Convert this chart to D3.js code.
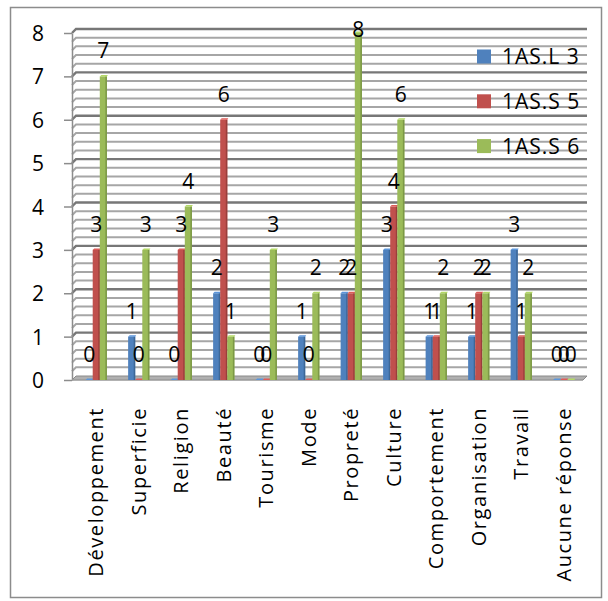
<!DOCTYPE html>
<html>
<head>
<meta charset="utf-8">
<script src="https://cdn.jsdelivr.net/npm/d3@7/dist/d3.min.js"></script>
<style>
  html, body { margin: 0; padding: 0; background: #fff; }
  svg { display: block; }
  text { font-family: "Open Sans", "Noto Sans", sans-serif; fill: #000; }
</style>
</head>
<body>
<svg id="chart" width="608" height="601"></svg>
<script>
// Survey answers per theme, for three first-year classes
const categories = ["Développement", "Superficie", "Religion", "Beauté", "Tourisme", "Mode",
  "Propreté", "Culture", "Comportement", "Organisation", "Travail", "Aucune réponse"];
const seriesNames = ["1AS.L 3", "1AS.S 5", "1AS.S 6"];
const valuesL3 = [0, 1, 0, 2, 0, 1, 2, 3, 1, 1, 3, 0];
const valuesS5 = [3, 0, 3, 6, 0, 0, 2, 4, 1, 2, 1, 0];
const valuesS6 = [7, 3, 4, 1, 3, 2, 8, 6, 2, 2, 2, 0];
const yTicks = [0, 1, 2, 3, 4, 5, 6, 7, 8];

const seriesValues = [valuesL3, valuesS5, valuesS6];
const colors = ["#4f81bd", "#c0504d", "#9bbb59"];
const darker = ["#3d6797", "#9a3e3b", "#7c9846"];

const svg = d3.select("#chart");

// outer chart frame
svg.append("rect")
  .attr("x", 10.5).attr("y", 7.5).attr("width", 591).attr("height", 590)
  .attr("fill", "#fff").attr("stroke", "#8c8c8c").attr("stroke-width", 1.5);

const y = d3.scaleLinear().domain([0, 8]).range([380, 33]);
const x0 = d3.scaleBand().domain(categories).range([75, 585])
  .paddingInner(0.5).paddingOuter(0.25);
const x1 = d3.scaleBand().domain(seriesNames).range([0, x0.bandwidth()]);

// back wall offset of the shallow 3D plot
const wallDx = 4, wallDy = -4;
const axisX = 72, wallRight = 587;
const floorY = y(0);

// floor
svg.append("path")
  .attr("d", "M" + axisX + "," + floorY + "L" + (wallRight - wallDx) + "," + floorY +
    "L" + wallRight + "," + (floorY + wallDy) + "L" + (axisX + wallDx) + "," + (floorY + wallDy) + "Z")
  .attr("fill", "#b0b0b0").attr("stroke", "#8a8a8a").attr("stroke-width", 1);

// gridlines on the back wall: minor every 0.2, major every 1
const gridVals = d3.range(1, 41).map(i => i / 5);
const gridLine = d3.line();
svg.append("g").attr("class", "grid")
  .selectAll("path")
  .data(gridVals)
  .join("path")
  .attr("d", v => gridLine([[axisX, y(v)], [axisX + wallDx, y(v) + wallDy], [wallRight, y(v) + wallDy]]))
  .attr("fill", "none")
  .attr("stroke", (v, i) => (i + 1) % 5 === 0 ? "#777777" : "#a6a6a6")
  .attr("stroke-width", (v, i) => (i + 1) % 5 === 0 ? 2.4 : 2);

// y axis
const yAxis = d3.axisLeft(y).tickValues(yTicks).tickFormat(d3.format("d"))
  .tickSize(8).tickSizeOuter(0).tickPadding(20);
const gy = svg.append("g").attr("transform", `translate(${axisX},0)`).call(yAxis);
gy.select(".domain").attr("stroke", "#8c8c8c").attr("stroke-width", 1.5);
gy.selectAll(".tick line").attr("stroke", "#8c8c8c").attr("stroke-width", 1.5);
gy.selectAll(".tick text").style("font-size", "21px").attr("dy", "0.36em");

// bottom axis line
svg.append("line").attr("x1", axisX).attr("x2", wallRight - wallDx)
  .attr("y1", floorY).attr("y2", floorY)
  .attr("stroke", "#a0a0a0").attr("stroke-width", 1.2);

// bars
const bars = svg.append("g");
categories.forEach((c, ci) => {
  seriesNames.forEach((s, si) => {
    const v = seriesValues[si][ci];
    const bx = x0(c) + x1(s);
    const bw = x1.bandwidth();
    const top = y(v);
    const h = y(0) - top;
    bars.append("rect")
      .attr("x", bx).attr("y", top).attr("width", bw).attr("height", Math.max(h, 0))
      .attr("fill", colors[si]);
    bars.append("rect")
      .attr("x", bx + bw - 1.5).attr("y", top).attr("width", 1.5).attr("height", Math.max(h, 0))
      .attr("fill", darker[si]);
    bars.append("path")
      .attr("d", "M" + bx + "," + top + "L" + (bx + 1.5) + "," + (top - 1.5) + "L" + (bx + bw + 1) + "," + (top - 1.5) + "L" + (bx + bw) + "," + top + "Z")
      .attr("fill", d3.color(colors[si]).brighter(0.4));
  });
});

// value labels
const labels = svg.append("g");
categories.forEach((c, ci) => {
  seriesNames.forEach((s, si) => {
    const v = seriesValues[si][ci];
    const cx = x0(c) + x1(s) + x1.bandwidth() / 2;
    labels.append("text")
      .attr("x", cx)
      .attr("y", Math.max(y(v) - 18, 37))
      .attr("text-anchor", "middle")
      .style("font-size", "21px")
      .text(v);
  });
});

// category labels, rotated
const xAxis = d3.axisBottom(x0).tickSize(0).tickPadding(0);
const gx = svg.append("g").attr("transform", "translate(0,407)").call(xAxis);
gx.select(".domain").remove();
gx.selectAll(".tick text")
  .attr("transform", "rotate(-90)")
  .attr("text-anchor", "end")
  .attr("x", 0).attr("y", 0).attr("dy", "0.36em")
  .style("font-size", "20px")
  .style("letter-spacing", "1.6px");

// legend
const legend = svg.append("g");
seriesNames.forEach((s, i) => {
  const cy = 56.5 + i * 44.8;
  legend.append("rect").attr("x", 477).attr("y", cy - 7).attr("width", 14).attr("height", 14)
    .attr("fill", colors[i]);
  legend.append("text").attr("x", 502).attr("y", cy).attr("dy", "0.36em")
    .style("font-size", "21px").style("letter-spacing", "1px").text(s);
});
</script>
</body>
</html>
